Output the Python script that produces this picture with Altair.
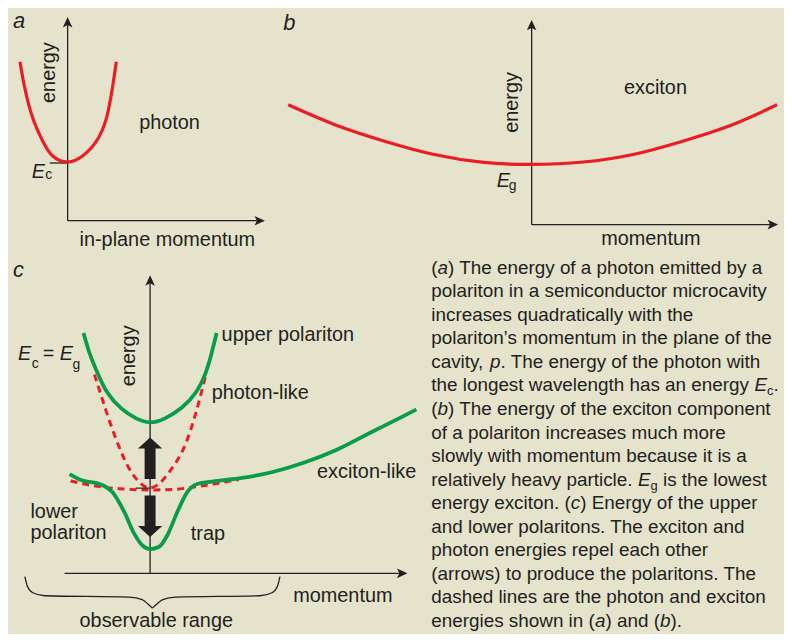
import re
import altair as alt
import pandas as pd

BG, RED, GREEN, INK = "#e5e3cc", "#ec1c24", "#0b9c4a", "#231f20"
FONT = "Liberation Sans"

# ---------------- values ----------------
# (a) photon energy vs in-plane momentum
a_k = [-2.4, -2.15, -1.75, -1.25, -0.75, 0.0, 0.75, 1.45, 1.95, 2.25, 2.45]
a_E = [8.0, 6.65, 5.15, 4.0, 3.25, 2.95, 3.25, 4.0, 5.15, 6.65, 8.0]
a_Ec = 2.9

# (b) exciton energy vs momentum
b_k = [-12.25, -9.9, -7.4, -4.9, -2.4, 0.0, 2.6, 5.1, 7.6, 10.1, 12.35]
b_E = [6.03, 5.03, 4.2, 3.53, 3.13, 3.03, 3.15, 3.53, 4.2, 5.03, 6.03]
b_Eg = 2.99

# (c) polaritons
up_k = [-3.35, -3.05, -2.65, -2.15, -1.45, -0.7, 0.0, 0.75, 1.6, 2.3, 2.8, 3.1, 3.35]
up_E = [12.1, 11.1, 10.1, 9.1, 8.3, 7.8, 7.6, 7.8, 8.35, 9.1, 10.1, 11.1, 12.1]
lp_k = [-4.05, -3.4, -2.55, -1.9, -1.3, -0.8, -0.4, 0.0, 0.45, 0.87, 1.37, 1.87,
        2.37, 3.12, 4.62, 6.12, 7.8, 9.45, 11.1, 12.6, 13.4]
lp_E = [5.0, 4.67, 4.5, 4.09, 3.09, 2.0, 1.42, 1.22, 1.34, 1.92, 3.09, 4.09,
        4.5, 4.62, 4.8, 5.09, 5.59, 6.25, 7.09, 7.84, 8.25]
ph_k = [-2.8, -2.4, -1.95, -1.45, -0.95, -0.45, 0.0, 0.5, 1.0, 1.6, 2.1, 2.45, 2.8]
ph_E = [10.0, 8.75, 7.4, 6.1, 5.1, 4.5, 4.3, 4.55, 5.15, 6.1, 7.4, 8.6, 9.95]
ex_k = [-4.0, -2.9, -1.55, 0.0, 1.1, 2.1, 3.2, 4.45]
ex_E = [4.65, 4.42, 4.26, 4.2, 4.22, 4.33, 4.5, 4.72]
c_EcEg = 4.29
push_up = 5.79      # centre of the upward repulsion arrow
push_down = 2.875   # centre of the downward repulsion arrow
brace_left_k = [-6.3, -6.175, -5.9, -5.3, -1.05, -0.4, -0.1, 0.115]
brace_left_E = [-0.165, -0.65, -0.975, -1.125, -1.2, -1.325, -1.55, -1.75]
brace_right_k = [0.115, 0.335, 0.635, 1.285, 5.535, 6.135, 6.41, 6.535]
brace_right_E = [-1.75, -1.55, -1.325, -1.2, -1.125, -0.975, -0.65, -0.165]

caption = [
    "(_a_) The energy of a photon emitted by a",
    "polariton in a semiconductor microcavity",
    "increases quadratically with the",
    "polariton\u2019s momentum in the plane of the",
    "cavity, _p_. The energy of the photon with",
    "the longest wavelength has an energy _E_~c~.",
    "(_b_) The energy of the exciton component",
    "of a polariton increases much more",
    "slowly with momentum because it is a",
    "relatively heavy particle. _E_~g~ is the lowest",
    "energy exciton. (_c_) Energy of the upper",
    "and lower polaritons. The exciton and",
    "photon energies repel each other",
    "(arrows) to produce the polaritons. The",
    "dashed lines are the photon and exciton",
    "energies shown in (_a_) and (_b_).",
]

# ---------------- drawing helpers ----------------
HEAD = "M0,-1L0.8,0.75L0,0.35L-0.8,0.75Z"
FAT = ("M0,-1L0.585,-0.475L0.264,-0.475L0.264,1L-0.264,1"
       "L-0.264,-0.475L-0.585,-0.475Z")


def xy(xdom, ydom, rev=False):
    ys = (alt.Scale(domain=ydom, nice=False, zero=False, reverse=True) if rev
          else alt.Scale(domain=ydom, nice=False, zero=False))
    return (alt.X("k:Q", scale=alt.Scale(domain=xdom, nice=False, zero=False), axis=None),
            alt.Y("E:Q", scale=ys, axis=None))


def line(ks, Es, dom, color, width, dash=None, interp="natural"):
    X, Y = xy(*dom)
    props = dict(color=color, strokeWidth=width, interpolate=interp)
    if dash:
        props["strokeDash"] = dash
    return alt.Chart(pd.DataFrame({"k": ks, "E": Es})).mark_line(**props).encode(x=X, y=Y)


def rules(rows, dom, width=1.3):
    X, Y = xy(*dom)
    return alt.Chart(pd.DataFrame(rows, columns=["k", "E", "k2", "E2"])).mark_rule(
        color=INK, strokeWidth=width).encode(x=X, y=Y, x2="k2:Q", y2="E2:Q")


def symbols(rows, dom, shape, size):
    X, Y = xy(*dom)
    return alt.Chart(pd.DataFrame(rows, columns=["k", "E", "ang"])).mark_point(
        shape=shape, size=size, filled=True, color=INK, opacity=1, strokeWidth=0
    ).encode(x=X, y=Y, angle=alt.Angle("ang:Q", scale=None))


def texts(rows, dom, size=20, style="normal", angle=0, align="left", dy=0, rev=False):
    X, Y = xy(*dom, rev=rev)
    props = dict(align=align, baseline="alphabetic", font=FONT, fontSize=size, color=INK)
    if style != "normal":
        props["fontStyle"] = style
    if angle:
        props["angle"] = angle
    if dy:
        props["dy"] = dy
    return alt.Chart(pd.DataFrame(rows, columns=["t", "k", "E"])).mark_text(**props).encode(
        x=X, y=Y, text="t:N")


TOTAL_W = 776

# ---------------- panel a (left part of the top row) ----------------
domA = ([-3, -3 + TOTAL_W / 20], [-1.5, 10.6])
A = alt.layer(
    rules([[0, 0, 0, 9.95], [0, 0, 9.63, 0], [-0.9, a_Ec, 0, a_Ec]], domA),
    symbols([[0, 9.95, 0], [9.63, 0, 90]], domA, HEAD, 144),
    line(a_k, a_E, domA, RED, 3.2),
    texts([["energy", -0.625, 7.45]], domA, angle=270, align="center"),
    texts([["photon", 3.6, 4.6], ["in-plane momentum", 0.6, -1.275]], domA),
    texts([["a", -2.75, 9.68]], domA, size=22, style="italic"),
    texts([["E", -1.8, 2.15]], domA, style="italic"),
    texts([["c", -1.125, 2.075]], domA, size=14),
)

# ---------------- panel b (right part of the top row) ----------------
domB = ([-26.35, -26.35 + TOTAL_W / 20], [-1.3, 10.8])
B = alt.layer(
    rules([[0, 0, 0, 10.0], [0, 0, 12.1, 0], [-0.8, b_Eg, 0, b_Eg]], domB),
    symbols([[0, 10.0, 0], [12.1, 0, 90]], domB, HEAD, 144),
    line(b_k, b_E, domB, RED, 3.2),
    texts([["energy", -0.7, 6.15]], domB, angle=270, align="center"),
    texts([["exciton", 4.65, 6.57], ["momentum", 3.5, -1.05]], domB),
    texts([["b", -12.5, 9.8]], domB, size=22, style="italic"),
    texts([["E", -1.75, 1.9]], domB, style="italic"),
    texts([["g", -1.15, 1.725]], domB, size=14),
)

top = alt.layer(A, B).resolve_scale(x="independent", y="independent").properties(
    width=TOTAL_W, height=242)

# ---------------- panel c (left part of the bottom row) ----------------
domC = ([-7.15, -7.15 + TOTAL_W / 20], [-2.95, 16.25])
Xc, Yc = xy(*domC)
brace = alt.Chart(pd.DataFrame({
    "k": brace_left_k + brace_right_k,
    "E": brace_left_E + brace_right_E,
    "part": ["l"] * len(brace_left_k) + ["r"] * len(brace_right_k),
})).mark_line(color=INK, strokeWidth=1.3, interpolate="monotone").encode(
    x=Xc, y=Yc, detail="part:N")

C = alt.layer(
    rules([[0, 0, 0, 14.7], [-4.3, 0, 12.65, 0]], domC),
    symbols([[0, 14.7, 0], [12.65, 0, 90]], domC, HEAD, 144),
    line(ph_k, ph_E, domC, RED, 3, dash=[7, 5]),
    line(ex_k, ex_E, domC, RED, 3, dash=[7, 5], interp="monotone"),
    line(up_k, up_E, domC, GREEN, 3.8),
    line(lp_k, lp_E, domC, GREEN, 3.8, interp="monotone"),
    rules([[-0.72, c_EcEg, 0, c_EcEg]], domC, width=1.2),
    symbols([[0, push_up, 0], [0, push_down, 180]], domC, FAT, 1740),
    brace,
    texts([["energy", -0.78, 10.95]], domC, angle=270, align="center"),
    texts([["upper polariton", 3.6, 11.67], ["photon-like", 3.1, 8.75],
           ["exciton-like", 8.4, 4.79], ["lower", -6.02, 2.79],
           ["polariton", -6.02, 1.72], ["trap", 2.05, 1.67],
           ["momentum", 7.2, -1.42], ["observable range", -3.55, -2.7],
           ["=", -5.4, 10.75]], domC),
    texts([["c", -6.9, 14.9]], domC, size=22, style="italic"),
    texts([["E", -6.65, 10.75], ["E", -4.55, 10.75]], domC, style="italic"),
    texts([["c", -5.95, 10.35], ["g", -3.9, 10.3]], domC, size=14),
)

# ---------------- caption (right part of the bottom row) ----------------
FS, FS_SUB = 19, 13
W = {" ": 278, "(": 333, ")": 333, ",": 278, ".": 278, "a": 556, "b": 556, "c": 500,
     "d": 556, "e": 556, "f": 278, "g": 556, "h": 556, "i": 222, "l": 222, "m": 833,
     "n": 556, "o": 556, "p": 556, "r": 333, "s": 500, "t": 278, "u": 556, "v": 500,
     "w": 722, "x": 500, "y": 500, "E": 667, "T": 611}
x0, y0, step = 9.0, 23.3, 23.71
rows = {"n": [], "i": [], "s": []}
for li, ln in enumerate(caption):
    x = 0.0
    for tok in re.split(r"(_[^_]+_|~[^~]+~)", ln):
        if not tok:
            continue
        if tok.startswith("_"):
            st, s, fs = "i", tok[1:-1], FS
        elif tok.startswith("~"):
            st, s, fs = "s", tok[1:-1], FS_SUB
        else:
            st, s, fs = "n", tok, FS
        lead = len(s) - len(s.lstrip(" "))
        x += lead * W[" "] * fs / 1000
        rows[st].append([s.strip(" "), x0 + x, y0 + step * li])
        x += sum(W.get(ch, 556) for ch in s.lstrip(" ")) * fs / 1000

domT = ([-417, -417 + TOTAL_W], [0, 384])
T = alt.layer(
    texts(rows["n"], domT, size=FS, rev=True),
    texts(rows["i"], domT, size=FS, style="italic", rev=True),
    texts(rows["s"], domT, size=FS_SUB, dy=4, rev=True),
)

bottom = alt.layer(C, T).resolve_scale(x="independent", y="independent").properties(
    width=TOTAL_W, height=384)

chart = alt.vconcat(top, bottom, spacing=0, bounds="flush").properties(
    background=BG, padding=0).configure_view(strokeWidth=0)

chart.save("out.html", embed_options={"renderer": "svg", "actions": False})
